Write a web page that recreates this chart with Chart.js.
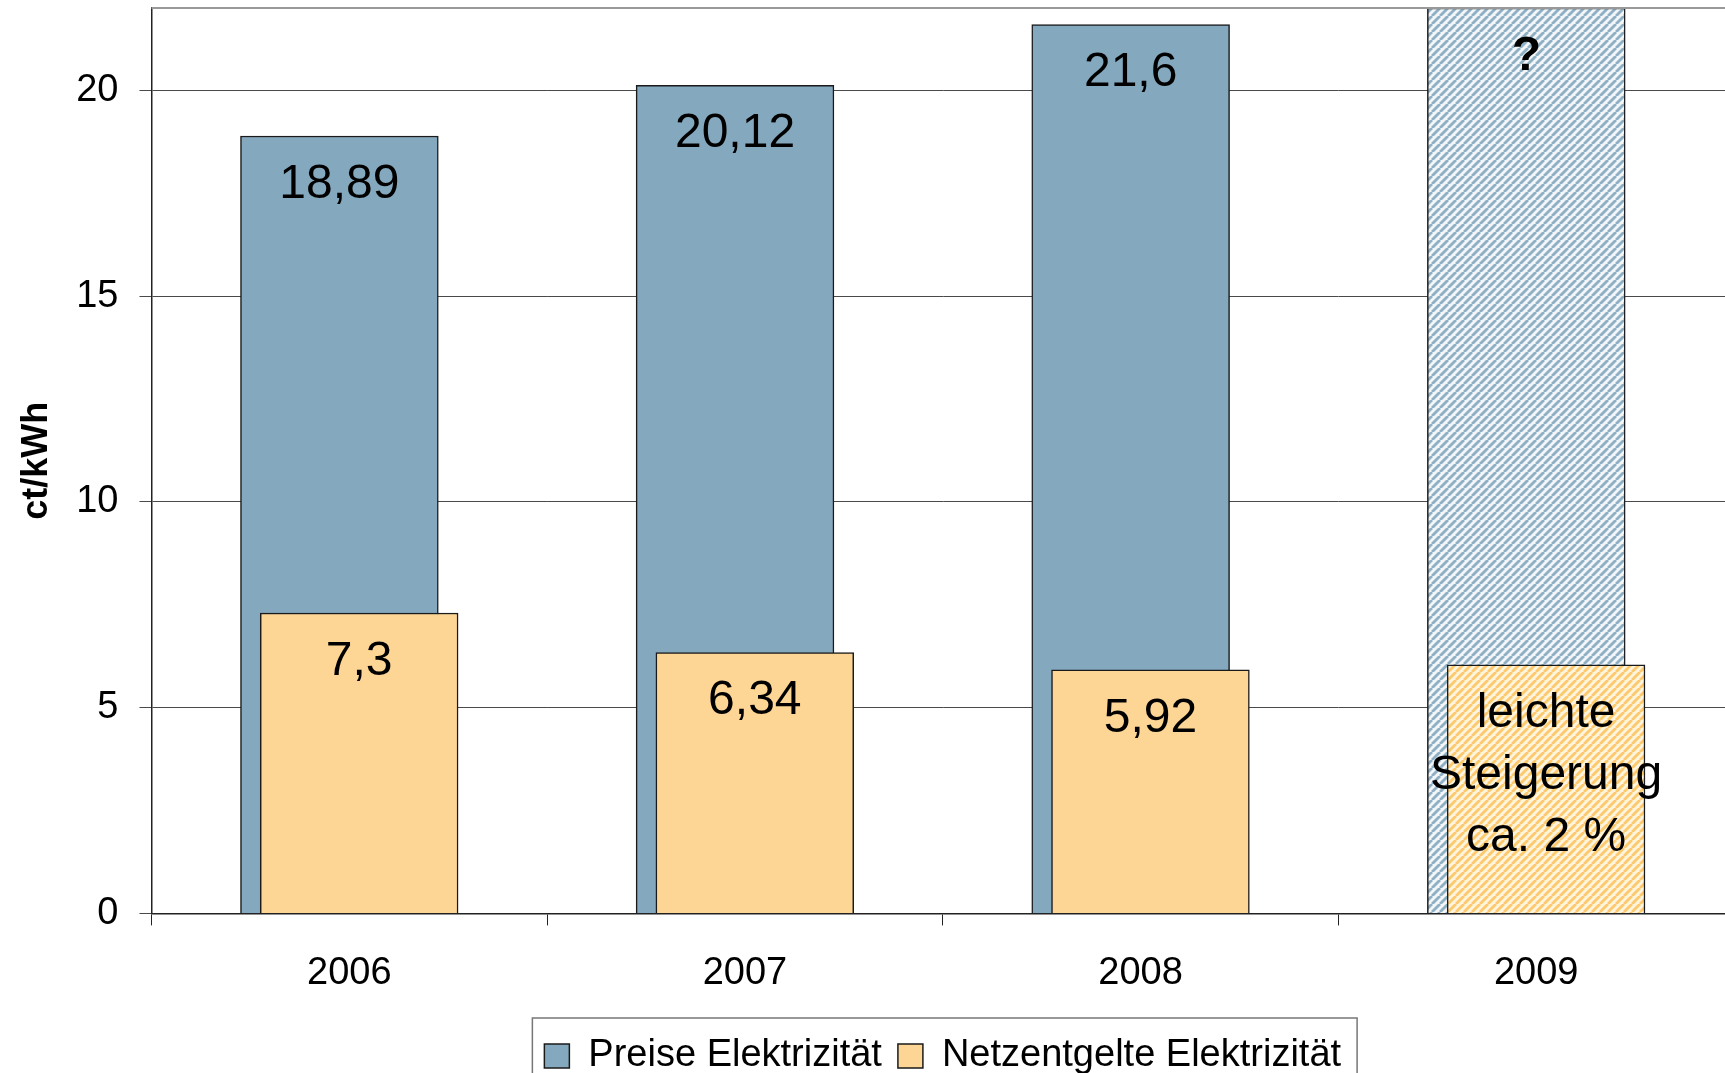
<!DOCTYPE html>
<html lang="de">
<head>
<meta charset="utf-8">
<title>Preise und Netzentgelte Elektrizität</title>
<script src="https://cdn.jsdelivr.net/npm/chart.js@4/dist/chart.umd.min.js"></script>
<style>
    html, body { margin: 0; padding: 0; background: #fff; overflow: hidden; }
    /* Zeichenflaeche ragt rechts etwas ueber den Fensterrand hinaus (wie im Original) */
    #wrap { width: 1734px; height: 1073px; }
</style>
</head>
<body>
<div id="wrap"><canvas id="strompreisChart"></canvas></div>
<script>
// Daten (ct/kWh)
const jahre = ['2006', '2007', '2008', '2009'];
const preise = [18.89, 20.12, 21.6, 22];
const netzentgelte = [7.3, 6.34, 5.92, 6.04];
const preiseBeschriftung = ['18,89', '20,12', '21,6', '?'];
const netzBeschriftung = ['7,3', '6,34', '5,92', ['leichte', 'Steigerung', 'ca. 2 %']];
const yTicks = [0, 5, 10, 15, 20];

const blau = '#84a8be';
const orange = '#fdd594';

Chart.defaults.font.family = '"Liberation Sans", Arial, sans-serif';
Chart.defaults.color = '#000';

// Schraffur fuer die Prognose 2009
function schraffur(hintergrund, streifen) {
    const c = document.createElement('canvas');
    c.width = 8;
    c.height = 8;
    const g = c.getContext('2d');
    g.fillStyle = hintergrund;
    g.fillRect(0, 0, 8, 8);
    g.strokeStyle = streifen;
    g.lineWidth = 2.8;
    [-8, 0, 8].forEach(k => {
        g.beginPath();
        g.moveTo(k, 8);
        g.lineTo(k + 8, 0);
        g.stroke();
    });
    return g.createPattern(c, 'repeat');
}
const blauSchraffiert = schraffur('#f2f6f8', '#8fb0c4');
const orangeSchraffiert = schraffur('#fff5de', '#fcca6c');

// Netzentgelte vor die Preise legen (Chart.js zeichnet Datensatz 0 sonst zuletzt)
let vorneZeichnen = false;
const vordergrund = {
    id: 'vordergrund',
    beforeDatasetDraw(chart, args) {
        if (args.index === 1 && !vorneZeichnen) return false;
    },
    afterDatasetsDraw(chart) {
        vorneZeichnen = true;
        chart.getDatasetMeta(1).controller.draw();
        vorneZeichnen = false;
    }
};

// Werte in die Balken schreiben
const balkenBeschriftung = {
    id: 'balkenBeschriftung',
    afterDatasetsDraw(chart) {
        const ctx = chart.ctx;
        const texte = [preiseBeschriftung, netzBeschriftung];
        ctx.save();
        ctx.fillStyle = '#000';
        ctx.textAlign = 'center';
        ctx.textBaseline = 'alphabetic';
        chart.data.datasets.forEach((ds, i) => {
            chart.getDatasetMeta(i).data.forEach((bar, j) => {
                const t = texte[i][j];
                const zeilen = Array.isArray(t) ? t : [t];
                ctx.font = (t === '?' ? 'bold ' : '') + '48px "Liberation Sans", Arial, sans-serif';
                zeilen.forEach((z, k) => {
                    ctx.fillText(z, bar.x, bar.y + 62 + k * 62);
                });
            });
        });
        ctx.restore();
    }
};

// Rahmen oben am Diagramm und um die Legende
const rahmen = {
    id: 'rahmen',
    afterDraw(chart) {
        const ctx = chart.ctx;
        const area = chart.chartArea;
        ctx.save();
        ctx.strokeStyle = '#999';
        ctx.lineWidth = 2;
        ctx.beginPath();
        ctx.moveTo(area.left, area.top);
        ctx.lineTo(area.right, area.top);
        ctx.stroke();

        const boxen = chart.legend.legendHitBoxes;
        if (boxen && boxen.length) {
            const links = Math.min(...boxen.map(b => b.left));
            const rechts = Math.max(...boxen.map(b => b.left + b.width));
            const oben = Math.min(...boxen.map(b => b.top));
            ctx.strokeStyle = '#777';
            ctx.lineWidth = 1.5;
            ctx.strokeRect(links - 12, oben - 19, rechts - links + 28, 200);
        }
        ctx.restore();
    }
};

const ctx = document.getElementById('strompreisChart').getContext('2d');
const strompreisChart = new Chart(ctx, {
    type: 'bar',
    data: {
        labels: jahre,
        datasets: [
            {
                label: 'Preise Elektrizität',
                data: preise,
                backgroundColor: (c) => (c.type === 'data' && c.dataIndex === 3) ? blauSchraffiert : blau,
                borderColor: '#1a1a1a',
                borderWidth: 1.5,
                categoryPercentage: 0.1,
                barPercentage: 10
            },
            {
                label: 'Netzentgelte Elektrizität',
                data: netzentgelte,
                backgroundColor: (c) => (c.type === 'data' && c.dataIndex === 3) ? orangeSchraffiert : orange,
                borderColor: '#1a1a1a',
                borderWidth: 1.5,
                categoryPercentage: 0.1,
                barPercentage: 10
            }
        ]
    },
    options: {
        responsive: true,
        maintainAspectRatio: false,
        animation: false,
        layout: {
            padding: { top: 8, left: 7, right: 0, bottom: -12 }
        },
        plugins: {
            legend: {
                position: 'bottom',
                fullSize: false,
                labels: {
                    font: { size: 38 },
                    color: '#000',
                    boxWidth: 25,
                    boxHeight: 24,
                    padding: 16
                }
            },
            title: { display: false },
            tooltip: { enabled: false }
        },
        scales: {
            x: {
                grid: {
                    offset: true,
                    drawOnChartArea: false,
                    drawTicks: true,
                    tickLength: 12,
                    color: '#222'
                },
                border: { display: true, color: '#222', width: 1.5 },
                ticks: {
                    font: { size: 38 },
                    color: '#000',
                    padding: 25
                }
            },
            y: {
                min: 0,
                max: 22,
                afterBuildTicks: (scale) => {
                    scale.ticks = yTicks.map(v => ({ value: v }));
                },
                afterFit: (scale) => {
                    scale.paddingTop = 0;
                },
                ticks: {
                    font: { size: 38 },
                    color: '#000',
                    padding: 21
                },
                grid: {
                    color: '#4a4a4a',
                    lineWidth: 1,
                    tickLength: 12,
                    drawTicks: true
                },
                border: { display: true, color: '#222', width: 1.5 },
                title: {
                    display: true,
                    text: 'ct/kWh',
                    font: { size: 36, weight: 'bold' },
                    color: '#000',
                    padding: { top: 8, bottom: -3 }
                }
            }
        }
    },
    plugins: [vordergrund, balkenBeschriftung, rahmen]
});
</script>
</body>
</html>
